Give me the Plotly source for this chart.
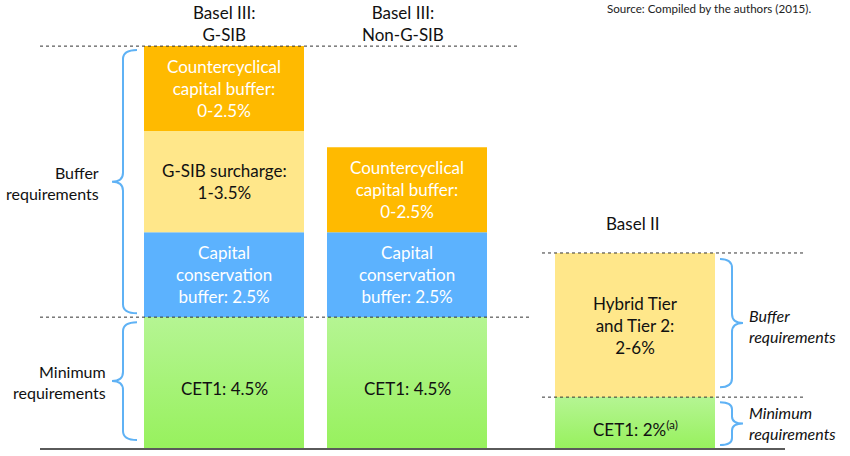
import plotly.graph_objects as go

# ---------------- data ----------------
columns = ["Basel III:<br>G-SIB", "Basel III:<br>Non-G-SIB", "Basel II"]

# segment heights (diagram units), bottom to top
cet1 = [4.5, 4.5, 1.77]
conservation = [2.9, 2.9, None]
surcharge = [3.45, None, None]
countercyclical = [2.9, 2.9, None]
hybrid = [None, None, 4.92]

cet1_labels = ["CET1: 4.5%", "CET1: 4.5%", "CET1: 2%<sup>(a)</sup>"]
conservation_label = "Capital<br>conservation<br>buffer: 2.5%"
surcharge_label = "G-SIB surcharge:<br>1-3.5%"
countercyclical_label = "Countercyclical<br>capital buffer:<br>0-2.5%"
hybrid_label = "Hybrid Tier<br>and Tier 2:<br>2-6%"
source_text = "Source: Compiled by the authors (2015)."

# ---------------- layout constants ----------------
W, H = 850, 456
K = 29.3            # px per unit
BASE_PX = 449       # baseline pixel row
BAR_X = [224, 407, 635]
BAR_W = 160
FONT = "Lato"

def pix(v):          # data -> pixel row
    return BASE_PX - v * K

def dat(p):          # pixel row -> data
    return (BASE_PX - p) / K

C_ORANGE = "#FFBA00"
C_LYELLOW = "#FFE78A"
C_BLUE = "#5CB2FE"
C_GREEN_TOP = "#B5F593"
C_GREEN_BOT = "#97F15D"
C_BRACE = "#5FB2F5"

fig = go.Figure()

# compute stacked bases
layers = [("cet1", cet1, C_GREEN_BOT), ("cons", conservation, C_BLUE),
          ("sur", surcharge, C_LYELLOW), ("cc", countercyclical, C_ORANGE),
          ("hyb", hybrid, C_LYELLOW)]
tops = [0.0, 0.0, 0.0]
seg = {}
for name, vals, col in layers:
    xs, ys, bs = [], [], []
    for i, v in enumerate(vals):
        if v is None:
            continue
        xs.append(BAR_X[i]); ys.append(v); bs.append(tops[i])
        seg[(name, i)] = (tops[i], tops[i] + v)
        tops[i] += v
    fig.add_trace(go.Bar(x=xs, y=ys, base=bs, width=BAR_W,
                         marker=dict(color=col, line=dict(width=0)),
                         showlegend=False, hoverinfo="skip"))

# gradient overlay for CET1 segments
for i in range(3):
    b0, b1 = seg[("cet1", i)]
    x0, x1 = BAR_X[i] - BAR_W / 2, BAR_X[i] + BAR_W / 2
    fig.add_trace(go.Scatter(
        x=[x0, x1, x1, x0, x0], y=[b0, b0, b1, b1, b0],
        mode="lines", line=dict(width=0), fill="toself",
        fillgradient=dict(type="vertical",
                          colorscale=[[0, C_GREEN_BOT], [1, C_GREEN_TOP]]),
        showlegend=False, hoverinfo="skip"))

ann = []
def add_text(x, y, text, size=17, color="#111111", **kw):
    d = dict(x=x, y=y, xref="x", yref="y", text=text, showarrow=False,
             font=dict(family=FONT, size=size, color=color))
    d.update(kw)
    ann.append(d)

# segment labels
for i in range(3):
    b0, b1 = seg[("cet1", i)]
    add_text(BAR_X[i], (b0 + b1) / 2, cet1_labels[i], yshift=-5)
for i in (0, 1):
    b0, b1 = seg[("cons", i)]
    add_text(BAR_X[i], (b0 + b1) / 2, conservation_label, color="white")
    b0, b1 = seg[("cc", i)]
    add_text(BAR_X[i], (b0 + b1) / 2, countercyclical_label, color="white")
b0, b1 = seg[("sur", 0)]
add_text(BAR_X[0], (b0 + b1) / 2, surcharge_label)
b0, b1 = seg[("hyb", 2)]
add_text(BAR_X[2], (b0 + b1) / 2, hybrid_label)

# column titles
add_text(BAR_X[0], dat(23), columns[0], yanchor="middle")
add_text(BAR_X[1] - 4, dat(23), columns[1], yanchor="middle")
add_text(BAR_X[2] - 2, dat(223), columns[2], yanchor="middle")

# side labels
add_text(101, dat(183), "Buffer<br>requirements", size=16, xanchor="right", align="right")
add_text(108, dat(382), "Minimum<br>requirements", size=16, xanchor="right", align="right")
add_text(747, dat(326), "<i>Buffer<br>requirements</i>", size=16, xanchor="left", align="left")
add_text(747, dat(423), "<i>Minimum<br>requirements</i>", size=16, xanchor="left", align="left")

# source
ann.append(dict(x=813, y=dat(8), xref="x", yref="y", text=source_text, showarrow=False,
                xanchor="right", yanchor="middle",
                font=dict(family=FONT, size=11.6, color="#222222")))

shapes = []
def hline(y, x0, x1, dash="3px,3px", color="#333333", width=1):
    shapes.append(dict(type="line", xref="x", yref="y", x0=x0, x1=x1, y0=y, y1=y,
                       line=dict(color=color, width=width, dash=dash)))

g_top = seg[("cc", 0)][1]
hline(g_top, 40, 518)
hline(cet1[0], 40, 530)
hline(seg[("hyb", 2)][1], 542, 803)
hline(cet1[2], 542, 803)
hline(0, 40, 785, dash="solid", color="#5A5A5A", width=2)

def brace(y0p, y1p, xe, xv, xt, r=9):
    ym = (y0p + y1p) / 2
    pts = (f"M {xe},{dat(y0p)} Q {xv},{dat(y0p)} {xv},{dat(y0p + r)} "
           f"L {xv},{dat(ym - r)} Q {xv},{dat(ym)} {xt},{dat(ym)} "
           f"Q {xv},{dat(ym)} {xv},{dat(ym + r)} "
           f"L {xv},{dat(y1p - r)} Q {xv},{dat(y1p)} {xe},{dat(y1p)}")
    shapes.append(dict(type="path", xref="x", yref="y", path=pts,
                       line=dict(color=C_BRACE, width=2)))

brace(pix(g_top) + 4, pix(cet1[0]) - 4, 137, 123, 112)
brace(pix(cet1[0]) + 5, pix(0) - 9, 137, 123, 112)
brace(pix(seg[("hyb", 2)][1]) + 6, pix(cet1[2]) - 10, 720, 732, 743)
brace(pix(cet1[2]) + 5, pix(0) - 4, 720, 732, 743, r=7)

fig.update_layout(
    width=W, height=H, margin=dict(l=0, r=0, t=0, b=0),
    paper_bgcolor="white", plot_bgcolor="white",
    barmode="overlay",
    xaxis=dict(range=[0, W], visible=False, fixedrange=True),
    yaxis=dict(range=[dat(H), dat(0)], visible=False, fixedrange=True),
    annotations=ann, shapes=shapes, showlegend=False,
)

fig.write_html("out.html", config={"displayModeBar": False},
               post_script="document.body.style.margin='0';document.body.style.overflow='hidden';")
